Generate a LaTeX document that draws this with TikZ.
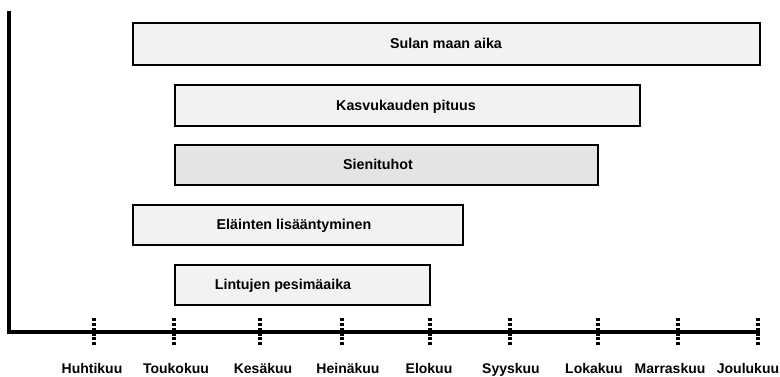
\documentclass[tikz,border=0pt]{standalone}
\usepackage{fontspec}
\setmainfont{Liberation Sans}
\usetikzlibrary{fit}

\definecolor{barfill}{HTML}{F2F2F2}
\definecolor{barfilldark}{HTML}{E4E4E4}

\tikzset{
  axis/.style={line width=2.4pt},
  monthtick/.style={line width=2.3pt, dash pattern=on 2.4pt off 1.2pt},
  bar/.style={draw=black, line width=1.3pt, fill=barfill, inner sep=0pt},
  barlabel/.style={anchor=base, font=\fontsize{10.7}{12}\selectfont\bfseries},
  monthlabel/.style={anchor=base, font=\fontsize{10.5}{12}\selectfont\bfseries}
}

\begin{document}
\begin{tikzpicture}[x=0.75pt, y=-0.75pt]
\useasboundingbox (0,0) rectangle (780,376);

% Axes
\coordinate (axistop) at (9,11);
\coordinate (origin) at (9,332);
\coordinate (axisend) at (760,332);
\draw[axis] (axistop) -- (origin) -- (axisend);

% Month ticks and labels
\foreach \name/\tx/\lx/\month in {huhti/94/92/Huhtikuu, touko/174/176/Toukokuu,
    kesa/260/263/Kesäkuu, heina/342/348/Heinäkuu, elo/430/429/Elokuu,
    syys/510/511/Syyskuu, loka/598/594/Lokakuu, marras/678/670/Marraskuu,
    joulu/758/748/Joulukuu} {
  \coordinate (\name top) at (\tx,318);
  \coordinate (\name bottom) at (\tx,345);
  \draw[monthtick] (\name top) -- (\name bottom);
  \node[monthlabel] (\name) at (\lx,373) {\month};
}

% Sulan maan aika
\node[bar, fit={(133,23) (760,65)}] (sulan) {};
\node[barlabel] (sulanlabel) at (446,48) {Sulan maan aika};

% Kasvukauden pituus
\node[bar, fit={(175,85) (640,126)}] (kasvu) {};
\node[barlabel] (kasvulabel) at (406,110) {Kasvukauden pituus};

% Sienituhot
\node[bar, fill=barfilldark, fit={(175,145) (598,185)}] (sieni) {};
\node[barlabel] (sienilabel) at (378,169) {Sienituhot};

% Elainten lisaantyminen
\node[bar, fit={(133,205) (463,245)}] (elaimet) {};
\node[barlabel] (elaimetlabel) at (294,229) {Eläinten lisääntyminen};

% Lintujen pesimaaika
\node[bar, fit={(175,265) (430,305)}] (linnut) {};
\node[barlabel] (linnutlabel) at (283,289) {Lintujen pesimäaika};
\end{tikzpicture}
\end{document}
